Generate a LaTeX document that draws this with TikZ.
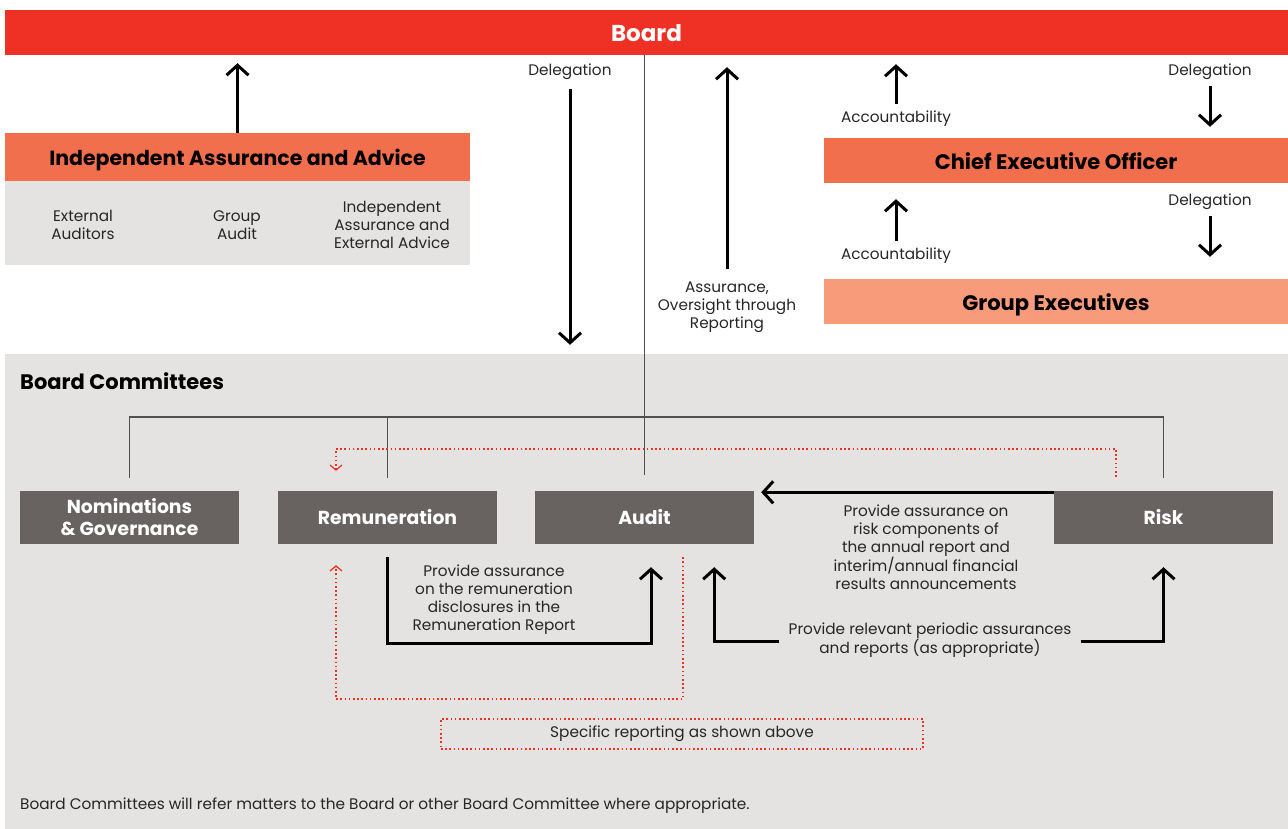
\documentclass[tikz,border=0pt]{standalone}
\usepackage{fontspec}
\setmainfont{Poppins}
\usetikzlibrary{positioning, arrows.meta, calc}

\definecolor{boardred}{RGB}{238,49,36}
\definecolor{ceoorange}{RGB}{242,111,77}
\definecolor{execpeach}{RGB}{247,155,123}
\definecolor{panelgrey}{RGB}{228,227,225}
\definecolor{cmtgrey}{RGB}{104,98,97}
\definecolor{treegrey}{RGB}{80,80,80}

\begin{document}
\begin{tikzpicture}[
  x=1pt, y=-1pt,
  bar/.style={inner sep=0pt, minimum height=45pt, text height=18pt, text depth=0pt, font=\fontsize{20.5}{24}\selectfont\bfseries},
  cmtbox/.style={fill=cmtgrey, text=white, minimum width=219pt, minimum height=53pt, inner sep=0pt, align=center, font=\fontsize{18.8}{22}\selectfont\bfseries},
  note/.style={align=center, inner sep=0pt, text=black!85, font=\fontsize{15.3}{18}\selectfont},
  flow/.style={line width=3pt, -{Straight Barb[length=10pt, width=22pt]}},
  tree/.style={draw=treegrey, line width=1.7pt},
  reddot/.style={draw=boardred, line width=1.6pt, dash pattern=on 1.6pt off 2.6pt, -{Straight Barb[length=5pt, width=12pt, line width=1.2pt]}}
]
\useasboundingbox (0,0) rectangle (1288,829);

% top: board, assurance, management
\node[bar, fill=boardred, text=white, minimum width=1283pt, font=\fontsize{23}{26}\selectfont\bfseries] (board) at (646.5,32.5) {Board};

\node[bar, fill=ceoorange, minimum width=465pt, minimum height=48pt] (iaa) at (237.5,157) {Independent Assurance and Advice};
\node[fill=panelgrey, minimum width=465pt, minimum height=84pt, inner sep=0pt] (iaapanel) at (237.5,223) {};
\node[note] (extaud) at (83,225) {External\\Auditors};
\node[note] (grpaud) at (237,225) {Group\\Audit};
\node[note] (indadv) at (392,225) {Independent\\Assurance and\\External Advice};

\node[bar, fill=ceoorange, minimum width=464pt, font=\fontsize{21}{24}\selectfont\bfseries] (ceo) at (1056,160.5) {Chief Executive Officer};
\node[bar, fill=execpeach, minimum width=464pt, font=\fontsize{21}{24}\selectfont\bfseries] (gexec) at (1056,301.5) {Group Executives};

\node[note] (dlgA) at (570,72) {Delegation};
\node[note] (assur) at (727,307) {Assurance,\\Oversight through\\Reporting};
\node[note] (accA) at (896,119) {Accountability};
\node[note] (dlgB) at (1210,72) {Delegation};
\node[note] (accB) at (896,256) {Accountability};
\node[note] (dlgC) at (1210,202) {Delegation};

% board committees
\node[fill=panelgrey, minimum width=1283pt, minimum height=475pt, inner sep=0pt] (cmtpanel) at (646.5,591.5) {};
\node[anchor=west, inner sep=0pt, font=\fontsize{21}{24}\selectfont\bfseries] (cmttitle) at (20,381) {Board Committees};

\node[cmtbox] (nom) at (129.5,517.5) {Nominations\\\& Governance};
\node[cmtbox] (rem) at (387.5,517.5) {Remuneration};
\node[cmtbox] (aud) at (644.5,517.5) {Audit};
\node[cmtbox] (risk) at (1163.5,517.5) {Risk};

\node[note] (riskaud) at (926,547) {Provide assurance on\\risk components of\\the annual report and\\interim/annual financial\\results announcements};
\node[note] (remaud) at (494,600) {Provide assurance\\on the remuneration\\disclosures in the\\Remuneration Report};
\node[note, inner xsep=9pt] (peri) at (930,640) {Provide relevant periodic assurances\\and reports (as appropriate)};

\node[note, draw=boardred, line width=1.6pt, dash pattern=on 1.6pt off 2.6pt, minimum width=482pt, minimum height=30pt] (specific) at (682,734) {Specific reporting as shown above};
\node[note, anchor=west] (footer) at (20,806) {Board Committees will refer matters to the Board or other Board Committee where appropriate.};

% connectors
\draw[flow, shorten >=8pt] (iaa.north) -- (iaa.north |- board.south);
\draw[flow, shorten >=9pt] ([yshift=-9pt]dlgA.south) -- (dlgA.south |- cmtpanel.north);
\draw[flow, shorten >=12pt] ([yshift=12pt]assur.north) -- (assur.north |- board.south);
\draw[flow, shorten >=9pt] ([yshift=7pt]accA.north) -- (accA.north |- board.south);
\draw[flow, shorten >=11pt] ([yshift=-6pt]dlgB.south) -- (dlgB.south |- ceo.north);
\draw[flow, shorten >=16pt] ([yshift=7pt]accB.north) -- (accB.north |- ceo.south);
\draw[flow, shorten >=22pt] ([yshift=-6pt]dlgC.south) -- (dlgC.south |- gexec.north);

\draw[tree] ([yshift=13pt]nom.north) -- ++(0,61pt) -| ([yshift=13pt]risk.north);
\draw[tree] ([yshift=13pt]rem.north) -- ++(0,61pt);
\draw[tree] (board.south -| aud.north) -- ([yshift=16pt]aud.north);

\draw[flow, shorten >=7pt] ([yshift=-1.5pt]risk.north west) -- ([yshift=-1.5pt]aud.north east);
\draw[flow] ([yshift=-13pt]rem.south) -- ++(0,-86pt) -| ([xshift=6.5pt, yshift=-23pt]aud.south);
\draw[flow] ([yshift=-1pt]peri.west) -| ([xshift=-40pt, yshift=-23pt]aud.south east);
\draw[flow] ([yshift=-1pt]peri.east) -| ([yshift=-23pt]risk.south);

\draw[reddot] ([xshift=-47.5pt, yshift=14pt]risk.north) -- ++(0,28pt) -| ([xshift=-51.5pt, yshift=20pt]rem.north);
\draw[reddot] ([xshift=38.5pt, yshift=-13pt]aud.south) -- ++(0,-142pt) -| ([xshift=-51.5pt, yshift=-21pt]rem.south);
\end{tikzpicture}
\end{document}
